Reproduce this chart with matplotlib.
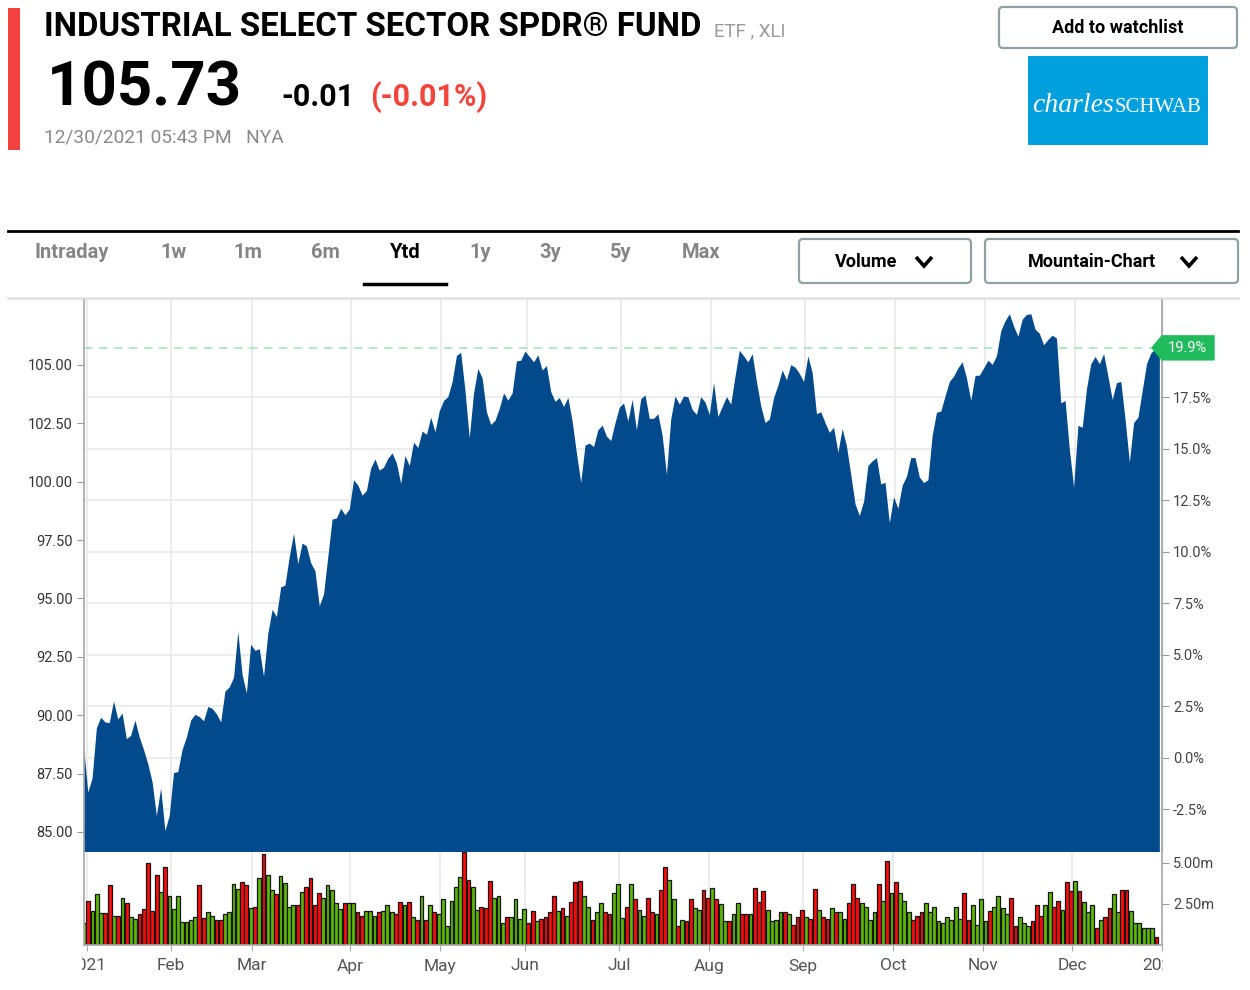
import matplotlib
matplotlib.use('Agg')
import matplotlib.pyplot as plt
from matplotlib.patches import Rectangle, FancyBboxPatch, Polygon
from matplotlib.transforms import Bbox, TransformedBbox, blended_transform_factory

plt.rcParams['font.family'] = ['Roboto', 'DejaVu Sans']

# daily closes, trading-day index 0 = Dec 31 2020 ... 251 = Dec 30 2021
close = [
    88.66, 86.68, 87.29, 89.43, 89.89, 89.69, 89.66, 90.58, 89.81, 90.07,
    88.97, 89.12, 89.77, 89.05, 88.51, 87.90, 87.13, 85.68, 86.86, 85.04,
    85.68, 87.52, 87.56, 88.51, 89.05, 89.77, 90.01, 89.92, 89.74, 90.35,
    90.27, 90.04, 89.69, 91.01, 91.19, 91.60, 93.56, 91.72, 90.93, 93.02,
    92.75, 92.83, 91.65, 93.48, 94.51, 94.20, 95.47, 95.55, 96.77, 97.77,
    96.47, 97.35, 97.23, 96.51, 96.16, 94.66, 95.17, 96.77, 98.38, 98.42,
    98.84, 98.56, 98.81, 100.06, 99.83, 99.40, 99.60, 100.56, 100.95, 100.47,
    100.60, 100.98, 101.21, 100.78, 99.91, 101.10, 100.67, 101.67, 101.44, 102.15,
    102.00, 102.74, 102.12, 103.01, 103.46, 103.62, 104.27, 105.38, 105.52, 103.88,
    101.86, 103.78, 104.83, 104.42, 102.97, 102.43, 102.61, 103.12, 103.78, 103.47,
    103.78, 105.15, 105.18, 105.57, 105.34, 105.11, 105.41, 104.76, 104.95, 103.84,
    103.42, 103.58, 103.20, 103.58, 102.58, 101.21, 99.95, 101.54, 101.63, 101.48,
    102.20, 102.40, 101.93, 101.74, 102.50, 103.17, 103.35, 102.58, 103.50, 102.20,
    103.53, 103.69, 102.69, 102.69, 102.89, 101.97, 100.29, 102.66, 103.65, 103.30,
    103.65, 103.61, 103.07, 102.86, 103.62, 103.39, 102.86, 104.22, 102.77, 103.20,
    103.62, 103.30, 104.50, 105.60, 105.37, 105.11, 105.46, 104.27, 103.23, 102.51,
    102.66, 103.58, 104.11, 104.76, 104.34, 104.99, 104.88, 104.62, 104.27, 105.37,
    104.65, 102.89, 102.97, 102.51, 102.09, 102.31, 101.24, 102.25, 101.51, 100.29,
    99.03, 98.53, 99.14, 100.67, 100.87, 101.01, 99.88, 99.95, 98.22, 99.33,
    98.84, 99.83, 100.21, 101.01, 101.01, 100.18, 99.94, 100.06, 101.97, 102.95,
    103.00, 103.65, 104.27, 104.50, 104.85, 105.11, 104.42, 103.46, 104.53, 104.54,
    104.85, 105.18, 105.00, 105.37, 106.44, 106.87, 107.17, 106.64, 106.21, 106.94,
    107.14, 107.17, 106.51, 106.33, 105.84, 106.07, 106.25, 106.13, 103.35, 103.46,
    101.36, 99.75, 102.39, 102.31, 103.96, 105.03, 105.34, 105.03, 105.46, 104.50,
    103.50, 104.22, 104.27, 102.66, 100.82, 102.51, 102.74, 103.88, 105.03, 105.49,
    105.67, 105.73,
]

# volume in millions of shares
volume = [
    1.36, 2.70, 2.07, 3.09, 1.97, 1.97, 3.64, 1.79, 1.79, 2.89,
    2.54, 1.69, 1.61, 1.89, 2.17, 4.98, 2.07, 4.29, 3.25, 4.74,
    2.99, 2.17, 2.99, 1.42, 1.42, 1.52, 1.69, 3.64, 1.63, 1.99,
    1.79, 1.52, 1.52, 1.89, 1.99, 3.72, 3.41, 3.82, 3.68, 2.24,
    2.34, 4.09, 5.55, 4.29, 3.35, 3.09, 4.19, 3.78, 2.34, 2.44,
    2.44, 3.25, 3.56, 4.09, 2.44, 3.15, 2.89, 3.64, 3.35, 2.54,
    2.17, 2.54, 2.54, 2.54, 1.99, 1.79, 2.07, 2.07, 1.79, 1.99,
    2.07, 2.44, 1.99, 1.89, 2.62, 2.44, 2.62, 1.71, 1.52, 2.99,
    1.52, 2.44, 1.99, 1.89, 2.80, 1.16, 2.70, 3.56, 4.17, 5.65,
    3.98, 3.54, 2.15, 2.34, 2.24, 3.90, 2.89, 2.99, 1.34, 1.69,
    1.69, 2.80, 1.61, 2.17, 1.34, 2.07, 1.44, 1.61, 1.69, 1.99,
    2.99, 2.07, 2.26, 1.79, 2.62, 3.82, 3.90, 2.99, 2.34, 1.52,
    1.99, 2.54, 1.99, 1.89, 3.17, 3.72, 1.63, 2.34, 3.72, 2.80,
    2.15, 1.79, 2.89, 1.99, 1.89, 3.35, 4.74, 3.98, 2.80, 1.16,
    1.52, 1.44, 2.80, 2.26, 2.15, 3.35, 2.89, 3.46, 2.80, 2.52,
    1.44, 1.44, 1.89, 2.54, 1.89, 1.89, 1.89, 3.46, 2.62, 3.27,
    2.15, 1.44, 1.52, 1.99, 1.99, 1.89, 1.24, 1.71, 2.15, 1.71,
    1.61, 3.43, 2.15, 1.71, 1.61, 2.26, 1.99, 1.99, 1.61, 2.54,
    3.72, 2.89, 2.54, 2.34, 1.52, 1.99, 3.72, 2.70, 5.10, 3.17,
    3.82, 3.17, 2.70, 1.99, 1.52, 1.79, 1.99, 2.54, 1.99, 2.34,
    1.44, 1.34, 1.71, 1.52, 2.34, 1.61, 3.17, 1.52, 2.44, 1.24,
    2.80, 1.44, 2.07, 2.34, 2.99, 2.26, 1.89, 2.89, 1.16, 1.71,
    1.34, 1.16, 1.44, 2.44, 1.79, 2.44, 3.25, 2.34, 2.70, 2.15,
    3.82, 3.27, 3.90, 3.27, 2.62, 1.99, 2.44, 1.06, 1.52, 1.71,
    2.26, 3.09, 1.99, 3.35, 3.35, 2.07, 1.34, 1.34, 1.06, 1.06,
    1.06, 0.51,
]

# g = up day, r = down day
vol_dir = list(
    "grgggrrgrg" "rggrrrrrgr" "gggggggrrg" "grrggggrrg" "rgrggrgggg"
    "rgrrrrgggg" "grggrrgggr" "gggrrgrgrg" "rgrggggggr" "rggrrrgggr"
    "ggggrrgrrr" "rgrgrrrggr" "ggrrgggrgr" "ggrrgrrggr" "grrggrrgrg"
    "grggrrgrrr" "ggggrgrrrg" "rrgrrgrggr" "rrggggrgrg" "rgggrrrggg"
    "ggggggrrgg" "ggrggggrrg" "ggrrrggrrg" "rrgrgggrgr" "rggrrggggg"
    "gr"
)

month_labels = ['2021', 'Feb', 'Mar', 'Apr', 'May', 'Jun', 'Jul', 'Aug',
                'Sep', 'Oct', 'Nov', 'Dec', '2022']
month_idx = [0.7, 20.3, 39.3, 62.3, 83.3, 103.3, 125.3, 146.3,
             168.3, 189.3, 210.3, 231.3, 252.3]

price_ticks = [85.0, 87.5, 90.0, 92.5, 95.0, 97.5, 100.0, 102.5, 105.0]
pct_ticks = [-2.5, 0.0, 2.5, 5.0, 7.5, 10.0, 12.5, 15.0, 17.5]
vol_ticks = [2.5, 5.0]
base_price = 88.18  # 0% reference for the right axis

last_price = 105.73
change = -0.01
change_pct = -0.01

W, H = 1250, 990
BLUE = '#034a8c'
GRID = '#ebebeb'
days = list(range(len(close)))


def to_pct(p):
    return (p / base_price - 1) * 100


def to_price(q):
    return base_price * (1 + q / 100)


fig = plt.figure(figsize=(W / 100, H / 100), dpi=100)
fig.patch.set_facecolor('white')

# ---------- header (pixel coordinates) ----------
hdr = fig.add_axes([0, 0, 1, 1])
hdr.set_xlim(0, W)
hdr.set_ylim(H, 0)
hdr.axis('off')

hdr.add_patch(Rectangle((8, 8), 12, 142, color='#f4433f', lw=0))
hdr.text(44, 36, 'INDUSTRIAL SELECT SECTOR SPDR® FUND', fontsize=23.8,
         fontweight='bold', color='black', va='baseline')
hdr.text(714, 36, 'ETF , XLI', fontsize=13.5, color='#9a9a9a', va='baseline')
hdr.text(47, 106, f'{last_price:.2f}', fontsize=44.5, fontweight='bold',
         color='black', va='baseline')
hdr.text(281, 106, f'{change:.2f}', fontsize=22, fontweight='bold',
         color='black', va='baseline')
hdr.text(370, 106, f'({change_pct:.2f}%)', fontsize=22, fontweight='bold',
         color='#f2443b', va='baseline')
hdr.text(44, 142, '12/30/2021 05:43 PM   NYA', fontsize=13.8, color='#8a8a8a',
         va='baseline')

# watchlist button
hdr.add_patch(FancyBboxPatch((999, 7), 238, 41, boxstyle='round,pad=0,rounding_size=4',
                             fc='white', ec='#8fa1a4', lw=1.6))
hdr.text(1118, 28, 'Add to watchlist', fontsize=13, fontweight='bold',
         ha='center', va='center')

# schwab logo
hdr.add_patch(Rectangle((1028, 56), 180, 89, color='#00a0df', lw=0))
hdr.text(1032, 112, 'charles', fontsize=20, style='italic', color='white',
         family='Liberation Serif', va='baseline')
hdr.text(1115, 112, 'SCHWAB', fontsize=15, color='white',
         family='Liberation Serif', va='baseline')

# tabs
hdr.plot([8, 1238], [231, 231], color='black', lw=2)
hdr.plot([8, 1238], [298, 298], color='#e3e3e3', lw=2)
tabs = ['Intraday', '1w', '1m', '6m', 'Ytd', '1y', '3y', '5y', 'Max']
tab_x = [72, 173, 248, 325, 405, 480, 550, 621, 701]
for t, x in zip(tabs, tab_x):
    hdr.text(x, 253, t, fontsize=14.5, fontweight='bold', ha='center', va='center',
             color='black' if t == 'Ytd' else '#858585')
hdr.plot([364, 446], [284, 284], color='black', lw=2.5)

for x0, x1, label, cx, chev in [(799, 971, 'Volume', 866, 924),
                                (985, 1238, 'Mountain-Chart', 1092, 1189)]:
    hdr.add_patch(FancyBboxPatch((x0, 239), x1 - x0, 44,
                                 boxstyle='round,pad=0,rounding_size=4',
                                 fc='white', ec='#8fa1a4', lw=1.6))
    hdr.text(cx, 262, label, fontsize=13, fontweight='bold', ha='center', va='center')
    hdr.plot([chev - 8, chev, chev + 8], [257, 266, 257], color='black', lw=2.6,
             solid_capstyle='butt', solid_joinstyle='miter')

# ---------- price panel ----------
left, right = 84 / W, 1162 / W
ax = fig.add_axes([left, (H - 852) / H, right - left, (852 - 300) / H])
ax.set_xlim(0, 251.5)
ax.set_ylim(84.14, 107.78)
for q in pct_ticks:
    ax.axhline(to_price(q), color=GRID, lw=1.3, zorder=0)
for m in month_idx:
    ax.axvline(m, color=GRID, lw=1.3, zorder=0)
ax.axhline(last_price, color='#a9e4bb', lw=1.2, dashes=(5, 4), zorder=0.5)
ax.fill_between(days, close, 0, color=BLUE, lw=0, zorder=1)

ax.set_yticks(price_ticks)
ax.set_yticklabels([f'{p:.2f}' for p in price_ticks])
ax.set_xticks([])
ax.tick_params(axis='y', direction='out', length=5, color='#999999',
               labelcolor='#333333', labelsize=10.5, pad=3)
for s in ['top', 'bottom']:
    ax.spines[s].set_visible(False)
for s in ['left', 'right']:
    ax.spines[s].set_color('#a8a8a8')
    ax.spines[s].set_linewidth(1.2)

sec = ax.secondary_yaxis('right', functions=(to_pct, to_price))
sec.set_yticks(pct_ticks)
sec.set_yticklabels([f'{q:.1f}%' for q in pct_ticks])
sec.tick_params(direction='out', length=5, color='#999999', labelcolor='#444444',
                labelsize=10.5, pad=3)
sec.spines['right'].set_color('#a8a8a8')

# ---------- volume panel ----------
axv = fig.add_axes([left, (H - 945) / H, right - left, (945 - 852) / H])
axv.set_xlim(0, 251.5)
axv.set_ylim(0, 5.67)
for m in month_idx:
    axv.axvline(m, color=GRID, lw=1.3, zorder=0)
axv.bar(days, volume, width=0.9,
        color=['#5cb800' if d == 'g' else '#ff0a0a' for d in vol_dir],
        edgecolor='#151515', lw=0.9, zorder=2)
axv.set_xticks(month_idx)
axv.set_xticklabels([])
axv.tick_params(axis='x', direction='out', length=4, color='#aaaaaa')
axv.yaxis.tick_right()
axv.set_yticks(vol_ticks)
axv.set_yticklabels([f'{v:.2f}m' for v in vol_ticks])
axv.tick_params(axis='y', direction='out', length=5, color='#999999',
                labelcolor='#444444', labelsize=10.5, pad=3)
axv.spines['top'].set_visible(False)
for s in ['left', 'right', 'bottom']:
    axv.spines[s].set_color('#a8a8a8')
    axv.spines[s].set_linewidth(1.2)

# month labels, clipped at the chart edges like the original
clip = TransformedBbox(Bbox.from_extents(82 / W, 0, 1163 / W, 1), fig.transFigure)
trans = blended_transform_factory(axv.transData, fig.transFigure)
for lab, m in zip(month_labels, month_idx):
    t = fig.text(m, (H - 966) / H, lab, transform=trans, ha='center', va='center',
                 fontsize=12.5, color='#555555')
    t.set_clip_box(clip)
    t.set_clip_on(True)

# ---------- last value tag ----------
tag = fig.add_axes([0, 0, 1, 1], zorder=5)
tag.set_xlim(0, W)
tag.set_ylim(H, 0)
tag.axis('off')
tag.patch.set_visible(False)
px, py = ax.transData.transform((251.5, last_price))
tx, ty = tag.transData.inverted().transform((px, py))
tag.add_patch(Polygon([(tx - 10, ty), (tx, ty - 12), (tx + 52, ty - 12),
                       (tx + 52, ty + 12), (tx, ty + 12)], closed=True,
                      fc='#1fbb5c', ec='#1fbb5c', lw=1, joinstyle='round'))
tag.text(tx + 25, ty, f'{to_pct(last_price):.1f}%', fontsize=10.5, color='white',
         ha='center', va='center')

fig.savefig('out.png', dpi=100, facecolor='white')
